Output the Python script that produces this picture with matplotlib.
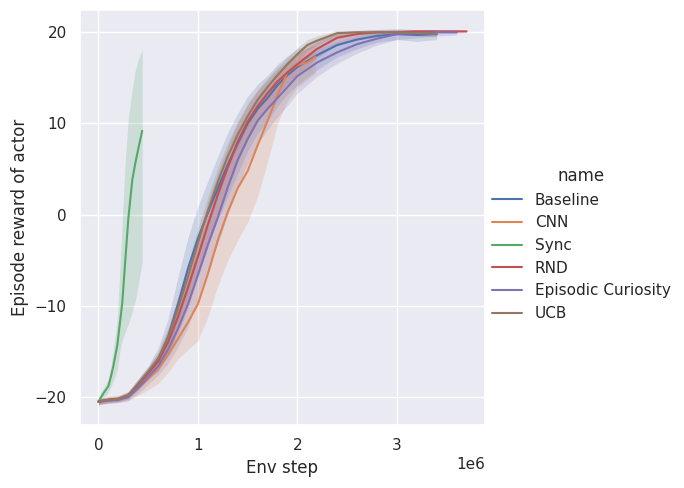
import numpy as np
import matplotlib
matplotlib.use("Agg")
import matplotlib.pyplot as plt
import seaborn as sns

names = ["Baseline", "CNN", "Sync", "RND", "Episodic Curiosity", "UCB"]

# env steps in millions, mean reward, lower / upper band
base_x = [0, 0.1, 0.2, 0.3, 0.4, 0.5, 0.6, 0.7, 0.8, 0.9, 1.0, 1.1, 1.2, 1.3, 1.4, 1.5,
          1.6, 1.7, 1.8, 1.9, 2.0, 2.2, 2.4, 2.6, 2.8, 3.0, 3.2, 3.4]
base_y = [-20.5, -20.3, -20.2, -19.8, -18.6, -17.3, -15.9, -13.4, -9.8, -5.9, -2.6, 0.2, 2.9, 5.5,
          7.8, 10.0, 11.6, 12.8, 14.2, 15.3, 16.2, 17.5, 18.6, 19.2, 19.6, 19.8, 19.7, 19.8]
base_lo = [-20.8, -20.6, -20.5, -20.2, -19.2, -18.0, -17.2, -15.4, -12.6, -9.2, -6.1, -3.3, -0.6, 2.0,
           4.5, 7.0, 8.9, 10.3, 11.9, 13.2, 14.2, 15.9, 17.3, 18.2, 18.9, 19.2, 19.0, 19.2]
base_hi = [-20.2, -20.0, -19.9, -19.4, -18.0, -16.6, -14.6, -11.4, -6.8, -2.5, 0.9, 3.7, 6.4, 9.0,
           11.1, 13.0, 14.3, 15.3, 16.5, 17.4, 18.2, 19.1, 19.9, 20.2, 20.3, 20.4, 20.3, 20.3]

cnn_x = [0, 0.1, 0.2, 0.3, 0.4, 0.5, 0.6, 0.7, 0.8, 0.9, 1.0, 1.1, 1.2, 1.3, 1.4, 1.5,
         1.6, 1.7, 1.8, 1.9, 2.0, 2.1, 2.18]
cnn_y = [-20.5, -20.3, -20.2, -19.9, -19.0, -18.0, -16.9, -15.4, -13.6, -11.8, -9.8, -6.5, -2.8,
         0.3, 2.9, 4.8, 7.6, 10.3, 13.1, 15.6, 16.4, 16.7, 17.3]
cnn_lo = [-20.9, -20.7, -20.6, -20.4, -19.8, -19.2, -18.5, -17.3, -15.8, -14.8, -13.8, -11.2, -7.8,
          -5.0, -2.8, -0.8, 2.0, 5.8, 10.0, 12.5, 14.0, 14.8, 15.5]
cnn_hi = [-20.1, -19.9, -19.8, -19.4, -18.3, -17.0, -15.4, -13.0, -9.8, -6.8, -3.3, -0.3, 2.7,
          5.2, 7.6, 9.8, 11.8, 13.6, 15.4, 17.0, 17.8, 18.3, 18.6]

sync_x = [0, 0.05, 0.1, 0.12, 0.15, 0.19, 0.22, 0.24, 0.27, 0.3, 0.34, 0.37, 0.4, 0.44]
sync_y = [-20.5, -19.6, -18.8, -18.0, -16.6, -14.3, -11.5, -9.6, -5.0, -0.5, 3.8, 5.6, 7.2, 9.2]
sync_lo = [-21.0, -20.2, -19.5, -19.0, -18.2, -17.0, -14.6, -13.8, -12.8, -12.0, -10.6, -9.5, -7.7, -5.2]
sync_hi = [-20.0, -19.0, -18.0, -17.0, -14.8, -11.4, -5.0, -0.5, 6.0, 10.5, 13.8, 15.8, 17.0, 18.1]

rnd_x = [0, 0.1, 0.2, 0.3, 0.4, 0.5, 0.6, 0.7, 0.8, 0.9, 1.0, 1.1, 1.2, 1.3, 1.4, 1.5,
         1.6, 1.7, 1.8, 1.9, 2.0, 2.2, 2.4, 2.6, 2.8, 3.0, 3.2, 3.4, 3.6, 3.7]
rnd_y = [-20.5, -20.3, -20.2, -19.8, -18.6, -17.4, -16.1, -14.0, -11.2, -8.0, -4.6, -1.1, 2.2, 5.2,
         8.0, 10.2, 11.9, 13.3, 14.6, 15.6, 16.5, 18.2, 19.4, 19.8, 20.0, 20.0, 20.1, 20.1, 20.1, 20.1]
rnd_lo = [-20.8, -20.6, -20.5, -20.2, -19.2, -18.1, -17.0, -15.4, -13.1, -10.2, -6.9, -3.6, -0.3,
          2.8, 5.8, 8.2, 10.2, 11.8, 13.2, 14.4, 15.4, 17.2, 18.7, 19.3, 19.6, 19.7, 19.8, 19.9, 19.9, 20.0]
rnd_hi = [-20.2, -20.0, -19.9, -19.4, -18.0, -16.7, -15.1, -12.5, -9.2, -5.7, -2.3, 1.4, 4.6, 7.5,
          10.1, 12.2, 13.6, 14.8, 16.0, 16.8, 17.6, 19.0, 20.0, 20.2, 20.3, 20.3, 20.3, 20.3, 20.3, 20.2]

ec_x = [0, 0.1, 0.2, 0.3, 0.4, 0.5, 0.6, 0.7, 0.8, 0.9, 1.0, 1.1, 1.2, 1.3, 1.4, 1.5,
        1.6, 1.7, 1.8, 1.9, 2.0, 2.2, 2.4, 2.6, 2.8, 3.0, 3.2, 3.4, 3.6]
ec_y = [-20.5, -20.4, -20.3, -20.0, -19.0, -17.8, -16.6, -14.8, -12.5, -9.8, -6.6, -3.3, -0.3, 3.0,
        6.0, 8.3, 10.3, 11.6, 12.8, 14.0, 15.2, 16.7, 17.8, 18.7, 19.3, 19.8, 19.9, 20.0, 20.0]
ec_lo = [-20.8, -20.7, -20.6, -20.4, -19.6, -18.6, -17.6, -16.3, -14.5, -12.3, -9.3, -6.0, -3.2, 0.0,
         3.0, 5.6, 7.8, 9.3, 10.7, 12.0, 13.3, 15.2, 16.6, 17.7, 18.6, 19.2, 19.4, 19.6, 19.7]
ec_hi = [-20.2, -20.1, -20.0, -19.6, -18.4, -17.0, -15.6, -13.3, -10.5, -7.3, -3.9, -0.6, 2.6, 6.0,
         9.0, 11.0, 12.8, 13.9, 14.9, 15.9, 17.0, 18.2, 19.0, 19.6, 20.0, 20.3, 20.3, 20.3, 20.3]

ucb_x = [0, 0.1, 0.2, 0.3, 0.4, 0.5, 0.6, 0.7, 0.8, 0.9, 1.0, 1.1, 1.2, 1.3, 1.4, 1.5,
         1.6, 1.7, 1.8, 1.9, 2.0, 2.1, 2.2, 2.3, 2.4, 2.6, 2.8, 3.0, 3.2, 3.4]
ucb_y = [-20.5, -20.3, -20.2, -19.8, -18.5, -17.2, -15.8, -13.5, -10.3, -6.8, -3.1, 0.4, 3.6, 6.4,
         8.8, 10.8, 12.6, 14.0, 15.3, 16.5, 17.6, 18.6, 19.1, 19.5, 19.9, 20.0, 20.0, 20.0, 19.9, 19.8]
ucb_lo = [-20.7, -20.5, -20.4, -20.1, -18.9, -17.7, -16.5, -14.5, -11.7, -8.3, -4.7, -1.2, 2.0, 4.9,
          7.4, 9.6, 11.5, 13.0, 14.4, 15.7, 16.9, 18.0, 18.6, 19.1, 19.6, 19.8, 19.8, 19.8, 19.6, 19.5]
ucb_hi = [-20.3, -20.1, -20.0, -19.5, -18.1, -16.7, -15.1, -12.5, -8.9, -5.3, -1.5, 2.0, 5.2, 7.9,
          10.2, 12.0, 13.7, 15.0, 16.2, 17.3, 18.3, 19.2, 19.6, 19.9, 20.2, 20.2, 20.2, 20.2, 20.2, 20.1]

series = [
    (base_x, base_y, base_lo, base_hi),
    (cnn_x, cnn_y, cnn_lo, cnn_hi),
    (sync_x, sync_y, sync_lo, sync_hi),
    (rnd_x, rnd_y, rnd_lo, rnd_hi),
    (ec_x, ec_y, ec_lo, ec_hi),
    (ucb_x, ucb_y, ucb_lo, ucb_hi),
]

sns.set_theme()
colors = sns.color_palette()

fig = plt.figure(figsize=(6.84, 4.88), dpi=100)
ax = fig.add_axes([0.117, 0.129, 0.592, 0.851])

handles = []
for name, (x, y, lo, hi), c in zip(names, series, colors):
    x = np.array(x) * 1e6
    ax.fill_between(x, lo, hi, color=c, alpha=0.2, linewidth=0)
    h, = ax.plot(x, y, color=c, linewidth=1.5, label=name)
    handles.append(h)

ax.set_xlabel("Env step")
ax.set_ylabel("Episode reward of actor")
ax.set_yticks([-20, -10, 0, 10, 20])

fig.legend(handles=handles, labels=names, title="name", loc="center left",
           bbox_to_anchor=(0.699, 0.5), frameon=False)

fig.savefig("out.png", dpi=100)
